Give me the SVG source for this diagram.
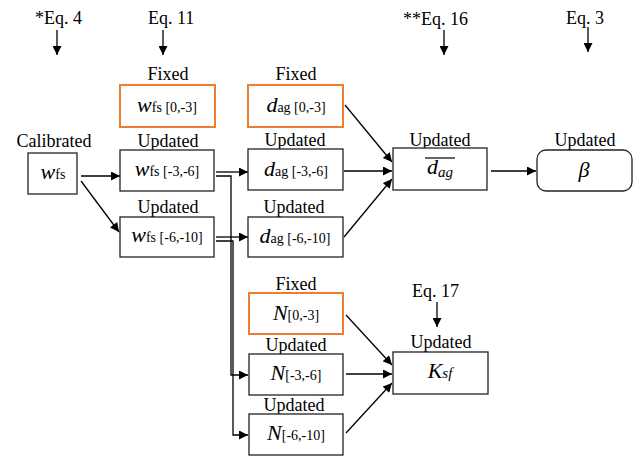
<svg xmlns="http://www.w3.org/2000/svg" width="637" height="456" viewBox="0 0 637 456">
<defs>
<marker id="ah" viewBox="0 0 10 10" refX="10" refY="5" markerWidth="10" markerHeight="9" markerUnits="userSpaceOnUse" orient="auto">
<path d="M0,0 L10,5 L0,10 z" fill="#000"/>
</marker>
</defs>
<style>
text{font-family:"Liberation Serif","Times New Roman",serif;fill:#000}
.lbl{font-size:18px}
.box{fill:#fff;stroke:#222;stroke-width:1.3}
.fix{fill:#fff;stroke:#ED7D31;stroke-width:2}
.v{font-style:italic;font-size:22px}
.s{font-size:14px}
.si{font-size:15px;font-style:italic}
.c{fill:none;stroke:#000;stroke-width:1.3}
.ca{fill:none;stroke:#000;stroke-width:1.3;marker-end:url(#ah)}
</style>
<rect width="637" height="456" fill="#fff"/>

<g id="eq-labels">
<text class="lbl" x="35" y="24">*Eq. 4</text>
<text class="lbl" x="148" y="24">Eq. 11</text>
<text class="lbl" x="403" y="25">**Eq. 16</text>
<text class="lbl" x="566" y="24">Eq. 3</text>
<text class="lbl" x="412" y="297">Eq. 17</text>
</g>

<g id="connectors">
<path class="ca" d="M57,30 V55"/>
<path class="ca" d="M163,30 V55"/>
<path class="ca" d="M444,30 V55"/>
<path class="ca" d="M588,27 V52"/>
<path class="ca" d="M437,302 V327"/>
<path class="ca" d="M81,176 H120"/>
<path class="ca" d="M81,181 L119,232"/>
<path class="ca" d="M216,172 H248"/>
<path class="ca" d="M216,237 H248"/>
<path class="ca" d="M216,176 H231 V375 H248"/>
<path class="ca" d="M216,241 H233 V435 H248"/>
<path class="ca" d="M345,105 L392,162"/>
<path class="ca" d="M344,171 H392"/>
<path class="ca" d="M344,237 L392,179"/>
<path class="ca" d="M491,171 H536"/>
<path class="ca" d="M346,315 L392,365"/>
<path class="ca" d="M346,374 H392"/>
<path class="ca" d="M346,433 L392,383"/>
</g>

<g id="n-wfs-cal">
<text class="lbl" x="54" y="147" text-anchor="middle">Calibrated</text>
<rect class="box" x="28" y="153" width="49" height="41"/>
<text x="53" y="179" text-anchor="middle"><tspan class="v">w</tspan><tspan class="s">fs</tspan></text>
</g>

<g id="n-wfs-0-3">
<text class="lbl" x="168" y="80" text-anchor="middle">Fixed</text>
<rect class="fix" x="120" y="85" width="95" height="42"/>
<text x="167" y="112" text-anchor="middle"><tspan class="v">w</tspan><tspan class="s">fs [0,-3]</tspan></text>
</g>

<g id="n-wfs-3-6">
<text class="lbl" x="168" y="147" text-anchor="middle">Updated</text>
<rect class="box" x="120" y="150" width="94" height="41"/>
<text x="167" y="176" text-anchor="middle"><tspan class="v">w</tspan><tspan class="s">fs [-3,-6]</tspan></text>
</g>

<g id="n-wfs-6-10">
<text class="lbl" x="168" y="213" text-anchor="middle">Updated</text>
<rect class="box" x="120" y="217" width="94" height="40"/>
<text x="167" y="242" text-anchor="middle"><tspan class="v">w</tspan><tspan class="s">fs [-6,-10]</tspan></text>
</g>

<g id="n-dag-0-3">
<text class="lbl" x="296" y="80" text-anchor="middle">Fixed</text>
<rect class="fix" x="248" y="85" width="95" height="42"/>
<text x="296" y="112" text-anchor="middle"><tspan class="v">d</tspan><tspan class="s">ag [0,-3]</tspan></text>
</g>

<g id="n-dag-3-6">
<text class="lbl" x="295" y="146" text-anchor="middle">Updated</text>
<rect class="box" x="248" y="149" width="95" height="41"/>
<text x="296" y="176" text-anchor="middle"><tspan class="v">d</tspan><tspan class="s">ag [-3,-6]</tspan></text>
</g>

<g id="n-dag-6-10">
<text class="lbl" x="294" y="213" text-anchor="middle">Updated</text>
<rect class="box" x="248" y="217" width="95" height="40"/>
<text x="295" y="243" text-anchor="middle"><tspan class="v">d</tspan><tspan class="s">ag [-6,-10]</tspan></text>
</g>

<g id="n-dag-mean">
<text class="lbl" x="440" y="146" text-anchor="middle">Updated</text>
<rect class="box" x="393" y="148" width="94" height="42"/>
<line x1="425" y1="158" x2="455" y2="158" stroke="#000" stroke-width="1.2"/>
<text x="440" y="174" text-anchor="middle"><tspan class="v" font-size="21px">d</tspan><tspan class="si" dy="3">ag</tspan></text>
</g>

<g id="n-beta">
<text class="lbl" x="585" y="146" text-anchor="middle">Updated</text>
<rect class="box" x="537" y="150" width="95" height="41" rx="9" ry="9"/>
<text class="v" x="584" y="177" text-anchor="middle" font-size="21px">β</text>
</g>

<g id="n-N-0-3">
<text class="lbl" x="296" y="290" text-anchor="middle">Fixed</text>
<rect class="fix" x="249" y="293" width="94" height="41"/>
<text x="296" y="320" text-anchor="middle"><tspan class="v">N</tspan><tspan class="s">[0,-3]</tspan></text>
</g>

<g id="n-N-3-6">
<text class="lbl" x="296" y="351" text-anchor="middle">Updated</text>
<rect class="box" x="249" y="354" width="94" height="41"/>
<text x="296" y="380" text-anchor="middle"><tspan class="v">N</tspan><tspan class="s">[-3,-6]</tspan></text>
</g>

<g id="n-N-6-10">
<text class="lbl" x="294" y="411" text-anchor="middle">Updated</text>
<rect class="box" x="249" y="414" width="94" height="41"/>
<text x="296" y="440" text-anchor="middle"><tspan class="v">N</tspan><tspan class="s">[-6,-10]</tspan></text>
</g>

<g id="n-Ksf">
<text class="lbl" x="441" y="348" text-anchor="middle">Updated</text>
<rect class="box" x="393" y="352" width="95" height="42"/>
<text x="440" y="378" text-anchor="middle"><tspan class="v" font-size="21px">K</tspan><tspan class="si">sf</tspan></text>
</g>
</svg>
